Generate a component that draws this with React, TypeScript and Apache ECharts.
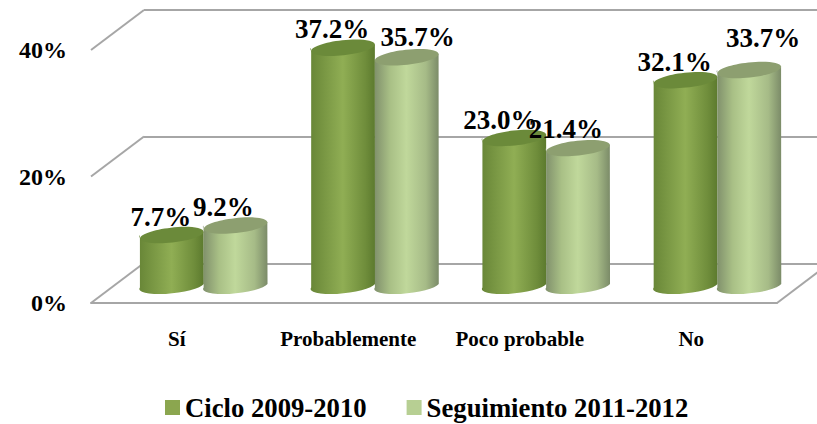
import React, { useEffect, useRef } from "react";
import * as echarts from "echarts";

const categories = ["Sí", "Probablemente", "Poco probable", "No"];
const ciclo = [7.7, 37.2, 23.0, 32.1];
const seguimiento = [9.2, 35.7, 21.4, 33.7];
const tickValues = [0, 20, 40];
const cicloName = "Ciclo 2009-2010";
const seguimientoName = "Seguimiento 2011-2012";

// label shift from the top centre of each cylinder [dx, dy]
const cicloLabelShift = [[-11, -18], [-11, -19], [-14, -18], [-11, -18]];
const seguimientoLabelShift = [[-12, -19], [11, -20], [-12, -19], [14, -32]];

const SERIF = '"Liberation Serif", "Times New Roman", serif';
const DEPTH_X = 53;
const DEPTH_Y = -40;
const GRAY = "#a6a6a6";

const grad = (stops: [number, string][]) =>
  new echarts.graphic.LinearGradient(0, 0, 1, 0, stops.map(([offset, color]) => ({ offset, color })));

function cylinderItem(
  shiftSign: number,
  side: [number, string][],
  top: string,
  values: number[],
  shifts: number[][]
) {
  return (params: any, api: any) => {
    const idx = api.value(0);
    const val = api.value(1);
    const [cxBand, yTop] = api.coord([idx, val]);
    const [, yBase] = api.coord([idx, 0]);
    const band = api.size([1, 0])[0];
    const half = band * 0.186;
    const cx = cxBand + shiftSign * band * 0.186;
    const tilt = 3.5;
    const ry = 7.5;
    const rot = (Math.atan2(tilt, half) * 180) / Math.PI;
    const rx = Math.hypot(half, tilt);
    const d =
      `M${cx - half} ${yTop + tilt} L${cx - half} ${yBase + tilt} ` +
      `A${rx} ${ry} ${-rot} 0 0 ${cx + half} ${yBase - tilt} ` +
      `L${cx + half} ${yTop - tilt} ` +
      `A${rx} ${ry} ${-rot} 0 1 ${cx - half} ${yTop + tilt} Z`;
    const [dx, dy] = shifts[idx];
    return {
      type: "group",
      children: [
        { type: "path", shape: { pathData: d }, style: { fill: grad(side) } },
        {
          type: "ellipse",
          x: cx,
          y: yTop,
          rotation: (rot * Math.PI) / 180,
          shape: { cx: 0, cy: 0, rx, ry },
          style: { fill: top },
        },
        {
          type: "text",
          z2: 50,
          style: {
            text: values[idx].toFixed(1) + "%",
            x: cx + dx,
            y: yTop + dy,
            align: "center",
            verticalAlign: "middle",
            fontFamily: SERIF,
            fontWeight: "bold",
            fontSize: 27,
            fill: "#000",
          },
        },
      ],
    };
  };
}

export default function App() {
  const ref = useRef<HTMLDivElement>(null);
  useEffect(() => {
    document.body.style.margin = "0";
    const chart = echarts.init(ref.current!, undefined, { renderer: "svg" });
    chart.setOption({
      animation: false,
      backgroundColor: "#fff",
      legend: {
        data: [cicloName, seguimientoName],
        icon: "rect",
        left: 160,
        top: 389,
        itemWidth: 15,
        itemHeight: 15,
        itemGap: 40,
        textStyle: { fontFamily: SERIF, fontWeight: "bold", fontSize: 26.7, color: "#000" },
      },
      grid: [
        { left: 91, right: 40, top: 50, bottom: 121 },
        { left: 144, right: 0, top: 10, bottom: 160 },
        { left: 118, right: 14, top: 30, bottom: 140 },
      ],
      xAxis: [
        {
          type: "category",
          gridIndex: 0,
          data: categories,
          axisLine: { lineStyle: { color: GRAY, width: 2 } },
          axisTick: { show: false },
          axisLabel: {
            margin: 25,
            color: "#000",
            fontFamily: SERIF,
            fontWeight: "bold",
            fontSize: 21,
            interval: 0,
          },
        },
        { type: "category", gridIndex: 1, data: categories, show: false },
        { type: "category", gridIndex: 2, data: categories, show: false },
      ],
      yAxis: [
        {
          type: "value",
          gridIndex: 0,
          min: 0,
          max: 40,
          interval: 20,
          axisLine: { show: false },
          axisTick: { show: false },
          splitLine: { show: false },
          axisLabel: {
            margin: 24,
            formatter: "{value}%",
            color: "#000",
            fontFamily: SERIF,
            fontWeight: "bold",
            fontSize: 24,
          },
        },
        {
          type: "value",
          gridIndex: 1,
          min: 0,
          max: 40,
          interval: 20,
          axisLine: { show: false },
          axisTick: { show: false },
          axisLabel: { show: false },
          splitLine: { show: true, lineStyle: { color: GRAY, width: 2 } },
        },
        {
          type: "value",
          gridIndex: 2,
          min: 0,
          max: 40,
          interval: 20,
          show: false,
        },
      ],
      series: [
        {
          type: "custom",
          name: "depth",
          xAxisIndex: 0,
          yAxisIndex: 0,
          silent: true,
          data: tickValues.map((v) => [0, v]),
          encode: { x: 0, y: 1 },
          renderItem: (p: any, api: any) => {
            const [, y] = api.coord([0, api.value(1)]);
            const x = api.coord([0, 0])[0] - api.size([1, 0])[0] / 2;
            return {
              type: "line",
              shape: { x1: x, y1: y, x2: x + DEPTH_X, y2: y + DEPTH_Y },
              style: { stroke: GRAY, lineWidth: 2 },
            };
          },
        },
        {
          type: "custom",
          name: "depthRight",
          xAxisIndex: 0,
          yAxisIndex: 0,
          silent: true,
          data: [[categories.length - 1, 0]],
          encode: { x: 0, y: 1 },
          renderItem: (p: any, api: any) => {
            const [c, y] = api.coord([api.value(0), 0]);
            const x = c + api.size([1, 0])[0] / 2;
            return {
              type: "line",
              shape: { x1: x, y1: y, x2: x + DEPTH_X, y2: y + DEPTH_Y },
              style: { stroke: GRAY, lineWidth: 2 },
            };
          },
        },
        {
          type: "custom",
          name: cicloName,
          xAxisIndex: 2,
          yAxisIndex: 2,
          z: 3,
          itemStyle: { color: "#8ba64f" },
          data: ciclo.map((v, i) => [i, v]),
          encode: { x: 0, y: 1 },
          renderItem: cylinderItem(
            -1,
            [
              [0, "#688637"],
              [0.5, "#90ae54"],
              [0.85, "#6f8d3b"],
              [1, "#5c7a2e"],
            ],
            "#6b8a3a",
            ciclo,
            cicloLabelShift
          ),
        },
        {
          type: "custom",
          name: seguimientoName,
          xAxisIndex: 2,
          yAxisIndex: 2,
          z: 4,
          itemStyle: { color: "#b7cf93" },
          data: seguimiento.map((v, i) => [i, v]),
          encode: { x: 0, y: 1 },
          renderItem: cylinderItem(
            1,
            [
              [0, "#7f8f6b"],
              [0.25, "#a9c086"],
              [0.5, "#c0d89b"],
              [0.8, "#a6bb87"],
              [1, "#7b8b68"],
            ],
            "#8d9f70",
            seguimiento,
            seguimientoLabelShift
          ),
        },
      ],
    });
    return () => chart.dispose();
  }, []);
  return <div ref={ref} style={{ width: 817, height: 424, position: "absolute", left: 0, top: 0 }} />;
}
